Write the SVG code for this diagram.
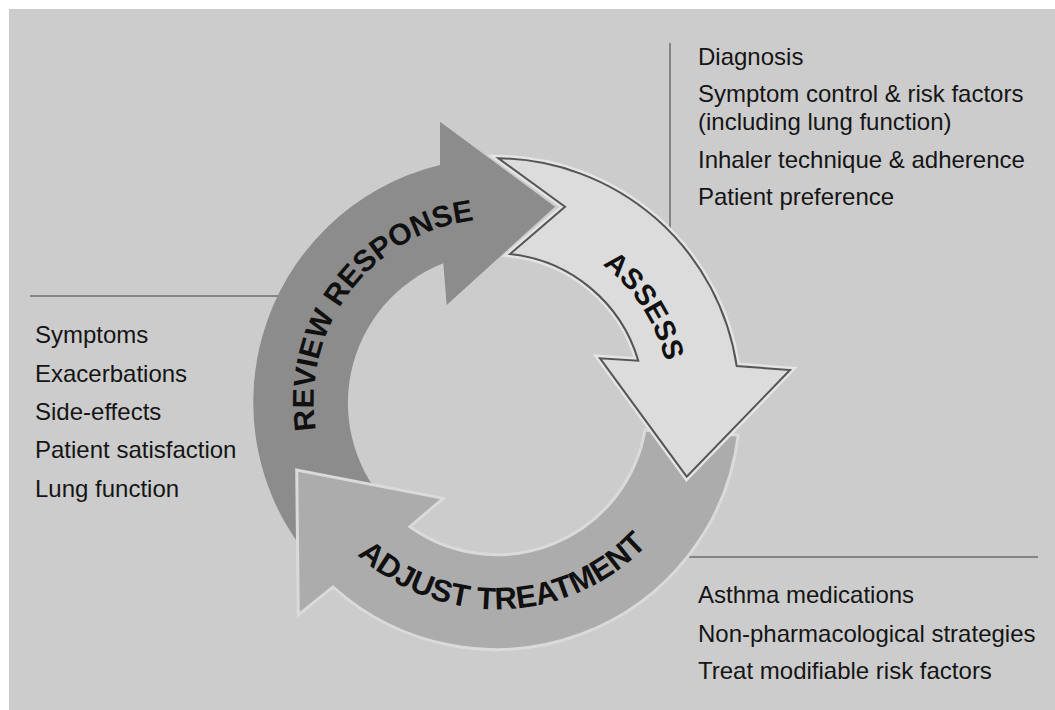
<svg xmlns="http://www.w3.org/2000/svg" width="1055" height="710" viewBox="0 0 1055 710">
<style>
.lbl{font-family:"Liberation Sans",Arial,sans-serif;font-size:24px;fill:#151515}
.big{font-family:"Liberation Sans",Arial,sans-serif;font-weight:bold;fill:#101010}
.sep{stroke:#858585;stroke-width:2;fill:none}
</style>
<defs>
<path id="pRev" d="M 386.2 546.4 A 182 182 0 0 1 605.3 255.7"/>
<path id="pAss" d="M 430.8 242.2 A 173 173 0 0 1 616.1 527.5"/>
<path id="pAdj" d="M 293.1 437.9 A 207 207 0 0 0 702.9 423.6"/>
</defs>
<rect x="9" y="9" width="1046" height="701" fill="#cccccc"/>
<g id="connectors">
<line class="sep" x1="30" y1="296" x2="300" y2="296"/>
<line class="sep" x1="670" y1="43" x2="670" y2="245"/>
<line class="sep" x1="675" y1="557" x2="1038" y2="557"/>
</g>
<g id="review">
<path d="M 324.5 574.5 A 244 244 0 0 1 440 165 L 440 121.7 L 555 206.7 L 446.7 305 L 443.3 263.3 A 150 150 0 0 0 390.9 508.1 Z" fill="#8c8c8c"/>
<text class="big" font-size="30"><textPath href="#pRev" startOffset="50%" text-anchor="middle">REVIEW RESPONSE</textPath></text>
</g>
<g id="adjust">
<path d="M 738.3 435 A 244 244 0 0 1 333 587 L 298.3 615 L 296.7 470 L 443.3 498.3 L 410 526.7 A 150 150 0 0 0 645 430 Z" fill="#acacac" stroke="#dadada" stroke-width="3" stroke-linejoin="miter"/>
<text class="big" font-size="31"><textPath href="#pAdj" startOffset="50%" text-anchor="middle">ADJUST TREATMENT</textPath></text>
</g>
<g id="assess">
<path d="M 498.3 158.3 A 244 244 0 0 1 736.7 366 L 790 370 L 686.7 476.7 L 600 358.3 L 638.3 360.7 A 150 150 0 0 0 510 254 L 565 206.7 Z" fill="none" stroke="#e4e4e4" stroke-width="7" stroke-linejoin="miter"/>
<path d="M 498.3 158.3 A 244 244 0 0 1 736.7 366 L 790 370 L 686.7 476.7 L 600 358.3 L 638.3 360.7 A 150 150 0 0 0 510 254 L 565 206.7 Z" fill="#dcdcdc" stroke="#555555" stroke-width="2" stroke-linejoin="miter"/>
<text class="big" font-size="29"><textPath href="#pAss" startOffset="50%" text-anchor="middle">ASSESS</textPath></text>
</g>
<g id="assess-items">
<text class="lbl" x="698" y="65">Diagnosis</text>
<text class="lbl" x="698" y="102">Symptom control &amp; risk factors</text>
<text class="lbl" x="698" y="130">(including lung function)</text>
<text class="lbl" x="698" y="168">Inhaler technique &amp; adherence</text>
<text class="lbl" x="698" y="205">Patient preference</text>
</g>
<g id="review-items">
<text class="lbl" x="35" y="343">Symptoms</text>
<text class="lbl" x="35" y="382">Exacerbations</text>
<text class="lbl" x="35" y="420">Side-effects</text>
<text class="lbl" x="35" y="458">Patient satisfaction</text>
<text class="lbl" x="35" y="497">Lung function</text>
</g>
<g id="adjust-items">
<text class="lbl" x="698" y="603">Asthma medications</text>
<text class="lbl" x="698" y="642">Non-pharmacological strategies</text>
<text class="lbl" x="698" y="679">Treat modifiable risk factors</text>
</g>
</svg>
